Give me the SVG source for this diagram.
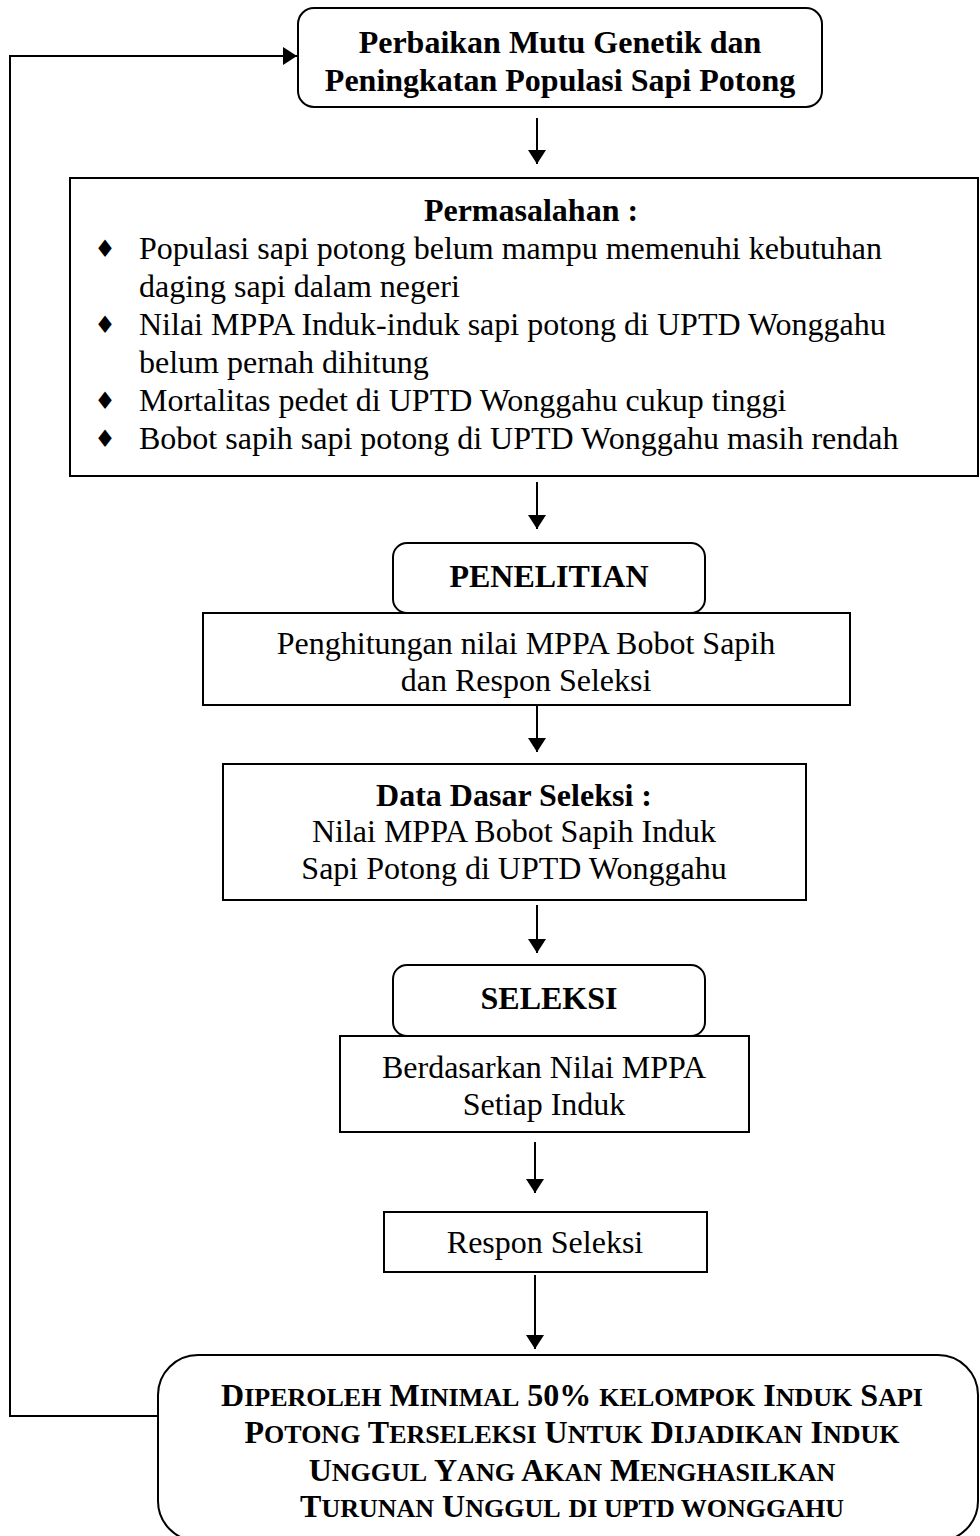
<svg xmlns="http://www.w3.org/2000/svg" width="980" height="1536" viewBox="0 0 980 1536">
<style>
.box{fill:#fff;stroke:#000;stroke-width:2}
.t{font-family:"Liberation Serif","Times New Roman",serif;font-size:32px;fill:#000}
.c{text-anchor:middle}
.b{font-weight:bold}
.s{font-size:26px}
.bul{font-family:"DejaVu Sans",sans-serif;font-size:24px;fill:#000;text-anchor:middle}
.con{fill:none;stroke:#000;stroke-width:2}
</style>
<defs>
<marker id="ah" viewBox="0 0 14 18" refX="14" refY="9" markerWidth="14" markerHeight="18" markerUnits="userSpaceOnUse" orient="auto">
<path d="M0,0 L14,9 L0,18 Z" fill="#000"/>
</marker>
</defs>
<rect width="980" height="1536" fill="#fff"/>
<g id="connectors">
<polyline class="con" points="160,1416 10,1416 10,56 297,56" marker-end="url(#ah)"/>
<line class="con" x1="537" y1="118" x2="537" y2="164" marker-end="url(#ah)"/>
<line class="con" x1="537" y1="482" x2="537" y2="529" marker-end="url(#ah)"/>
<line class="con" x1="537" y1="705" x2="537" y2="752" marker-end="url(#ah)"/>
<line class="con" x1="537" y1="905" x2="537" y2="953" marker-end="url(#ah)"/>
<line class="con" x1="535" y1="1142" x2="535" y2="1193" marker-end="url(#ah)"/>
<line class="con" x1="535" y1="1275" x2="535" y2="1349" marker-end="url(#ah)"/>
</g>
<g id="n1">
<rect class="box" x="298" y="8" width="524" height="99" rx="16"/>
<text class="t b c" x="560" y="53">Perbaikan Mutu Genetik dan</text>
<text class="t b c" x="560" y="91">Peningkatan Populasi Sapi Potong</text>
</g>
<g id="n2">
<rect class="box" x="70" y="178" width="908" height="298"/>
<text class="t b c" x="531" y="221">Permasalahan :</text>
<text class="bul" x="105" y="257">♦</text>
<text class="t" x="139" y="259">Populasi sapi potong belum mampu memenuhi kebutuhan</text>
<text class="t" x="139" y="297">daging sapi dalam negeri</text>
<text class="bul" x="105" y="333">♦</text>
<text class="t" x="139" y="335">Nilai MPPA Induk-induk sapi potong di UPTD Wonggahu</text>
<text class="t" x="139" y="373">belum pernah dihitung</text>
<text class="bul" x="105" y="409">♦</text>
<text class="t" x="139" y="411">Mortalitas pedet di UPTD Wonggahu cukup tinggi</text>
<text class="bul" x="105" y="447">♦</text>
<text class="t" x="139" y="449">Bobot sapih sapi potong di UPTD Wonggahu masih rendah</text>
</g>
<g id="n3">
<rect class="box" x="203" y="613" width="647" height="92"/>
<text class="t c" x="526" y="654">Penghitungan nilai MPPA Bobot Sapih</text>
<text class="t c" x="526" y="691">dan Respon Seleksi</text>
</g>
<g id="n4">
<rect class="box" x="393" y="543" width="312" height="70" rx="14"/>
<text class="t b c" x="549" y="587">PENELITIAN</text>
</g>
<g id="n5">
<rect class="box" x="223" y="764" width="583" height="136"/>
<text class="t b c" x="514" y="806">Data Dasar Seleksi :</text>
<text class="t c" x="514" y="842">Nilai MPPA Bobot Sapih Induk</text>
<text class="t c" x="514" y="879">Sapi Potong di UPTD Wonggahu</text>
</g>
<g id="n6">
<rect class="box" x="340" y="1036" width="409" height="96"/>
<text class="t c" x="544" y="1078">Berdasarkan Nilai MPPA</text>
<text class="t c" x="544" y="1115">Setiap Induk</text>
</g>
<g id="n7">
<rect class="box" x="393" y="965" width="312" height="71" rx="14"/>
<text class="t b c" x="549" y="1009">SELEKSI</text>
</g>
<g id="n8">
<rect class="box" x="384" y="1212" width="323" height="60"/>
<text class="t c" x="545" y="1253">Respon Seleksi</text>
</g>
<g id="n9">
<rect class="box" x="158" y="1355" width="820" height="186" rx="40"/>
<text class="t b c" x="572" y="1406">D<tspan class="s">IPEROLEH</tspan> M<tspan class="s">INIMAL</tspan> 50% <tspan class="s">KELOMPOK</tspan> I<tspan class="s">NDUK</tspan> S<tspan class="s">API</tspan></text>
<text class="t b c" x="572" y="1443">P<tspan class="s">OTONG</tspan> T<tspan class="s">ERSELEKSI</tspan> U<tspan class="s">NTUK</tspan> D<tspan class="s">IJADIKAN</tspan> I<tspan class="s">NDUK</tspan></text>
<text class="t b c" x="572" y="1481">U<tspan class="s">NGGUL</tspan> Y<tspan class="s">ANG</tspan> A<tspan class="s">KAN</tspan> M<tspan class="s">ENGHASILKAN</tspan></text>
<text class="t b c" x="572" y="1517">T<tspan class="s">URUNAN</tspan> U<tspan class="s">NGGUL</tspan> <tspan class="s">DI UPTD WONGGAHU</tspan></text>
</g>
</svg>
